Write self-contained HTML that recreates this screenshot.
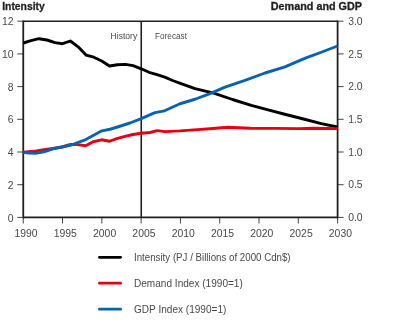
<!DOCTYPE html>
<html><head><meta charset="utf-8"><style>
html,body{margin:0;padding:0;background:#fff;}
svg{display:block;will-change:transform;}
text{font-family:"Liberation Sans",sans-serif;font-size:10.4px;fill:#484848;}
.lg{font-size:10px;}
.b{font-weight:bold;fill:#231f20;font-size:10.2px;stroke:#231f20;stroke-width:0.3px;}
.tk{stroke:#444;stroke-width:1;}
.ax{stroke:#231f20;stroke-width:1.8;fill:none;}
.ln{fill:none;stroke-width:2.9;stroke-linejoin:round;stroke-linecap:butt;}
</style></head><body>
<svg width="400" height="322" viewBox="0 0 400 322">
<text x="2.2" y="9.8" class="b" textLength="42.6" lengthAdjust="spacingAndGlyphs">Intensity</text>
<text x="270.8" y="9.8" class="b" textLength="91.2" lengthAdjust="spacingAndGlyphs">Demand and GDP</text>
<line x1="17.3" y1="217.40" x2="23.25" y2="217.40" class="tk"/><line x1="17.3" y1="184.70" x2="23.25" y2="184.70" class="tk"/><line x1="17.3" y1="152.00" x2="23.25" y2="152.00" class="tk"/><line x1="17.3" y1="119.30" x2="23.25" y2="119.30" class="tk"/><line x1="17.3" y1="86.60" x2="23.25" y2="86.60" class="tk"/><line x1="17.3" y1="53.90" x2="23.25" y2="53.90" class="tk"/><line x1="17.3" y1="21.20" x2="23.25" y2="21.20" class="tk"/><line x1="337.6" y1="217.40" x2="343.6" y2="217.40" class="tk"/><line x1="337.6" y1="184.70" x2="343.6" y2="184.70" class="tk"/><line x1="337.6" y1="152.00" x2="343.6" y2="152.00" class="tk"/><line x1="337.6" y1="119.30" x2="343.6" y2="119.30" class="tk"/><line x1="337.6" y1="86.60" x2="343.6" y2="86.60" class="tk"/><line x1="337.6" y1="53.90" x2="343.6" y2="53.90" class="tk"/><line x1="337.6" y1="21.20" x2="343.6" y2="21.20" class="tk"/><line x1="23.25" y1="217.4" x2="23.25" y2="223.5" class="tk"/><line x1="62.54" y1="217.4" x2="62.54" y2="223.5" class="tk"/><line x1="101.84" y1="217.4" x2="101.84" y2="223.5" class="tk"/><line x1="141.13" y1="217.4" x2="141.13" y2="223.5" class="tk"/><line x1="180.43" y1="217.4" x2="180.43" y2="223.5" class="tk"/><line x1="219.72" y1="217.4" x2="219.72" y2="223.5" class="tk"/><line x1="259.01" y1="217.4" x2="259.01" y2="223.5" class="tk"/><line x1="298.31" y1="217.4" x2="298.31" y2="223.5" class="tk"/><line x1="337.60" y1="217.4" x2="337.60" y2="223.5" class="tk"/>
<line x1="23.25" y1="21.2" x2="337.6" y2="21.2" class="ax" style="stroke-width:1.5"/>
<line x1="23.25" y1="217.4" x2="337.6" y2="217.4" class="ax"/>
<line x1="23.25" y1="20.5" x2="23.25" y2="218.3" class="ax"/>
<line x1="337.6" y1="20.5" x2="337.6" y2="218.3" class="ax"/>
<line x1="141.25" y1="21.2" x2="141.25" y2="217.4" class="ax" style="stroke-width:1.6"/>
<text x="110.6" y="38.8" style="font-size:8.6px" textLength="26.6" lengthAdjust="spacingAndGlyphs">History</text>
<text x="155" y="38.8" style="font-size:8.6px" textLength="32" lengthAdjust="spacingAndGlyphs">Forecast</text>
<text x="13.5" y="221.50" text-anchor="end">0</text><text x="13.5" y="188.80" text-anchor="end">2</text><text x="13.5" y="156.10" text-anchor="end">4</text><text x="13.5" y="123.40" text-anchor="end">6</text><text x="13.5" y="90.70" text-anchor="end">8</text><text x="13.5" y="58.00" text-anchor="end">10</text><text x="13.5" y="25.30" text-anchor="end">12</text><text x="348.2" y="221.10">0.0</text><text x="348.2" y="188.40">0.5</text><text x="348.2" y="155.70">1.0</text><text x="348.2" y="123.00">1.5</text><text x="348.2" y="90.30">2.0</text><text x="348.2" y="57.60">2.5</text><text x="348.2" y="24.90">3.0</text><text x="26.05" y="236.5" text-anchor="middle">1990</text><text x="65.34" y="236.5" text-anchor="middle">1995</text><text x="104.64" y="236.5" text-anchor="middle">2000</text><text x="143.93" y="236.5" text-anchor="middle">2005</text><text x="183.23" y="236.5" text-anchor="middle">2010</text><text x="222.52" y="236.5" text-anchor="middle">2015</text><text x="261.81" y="236.5" text-anchor="middle">2020</text><text x="301.11" y="236.5" text-anchor="middle">2025</text><text x="340.40" y="236.5" text-anchor="middle">2030</text>
<path d="M23.3,43 L31,40.7 L39,38.7 L47,40 L55,42.6 L62.5,43.7 L70.4,41 L78.1,46.8 L86,55.1 L93.8,57.2 L101.7,61 L109.5,66 L117.4,64.7 L125.3,64.4 L133.1,65.6 L141.2,68.8 L149,72.3 L157,74.6 L164.8,77.2 L172.6,80.5 L180.4,83.3 L195,88.6 L213.75,93.1 L232.5,99.5 L251.25,105.3 L270,110.4 L283.75,114 L302.5,118.75 L321.25,123.7 L337.5,127" class="ln" stroke="#000"/>
<path d="M23.3,152.2 L36.5,151 L44,149.8 L53,148.5 L62,147 L70.6,144.5 L77.5,144.6 L85.6,145.75 L93.1,141.75 L101.5,139.8 L109.6,141.25 L116.75,138.6 L125,136.4 L133,134.5 L141.25,133.25 L150,132.5 L157,130.6 L165,131.6 L180,130.9 L197.5,129.6 L210,128.8 L227.75,127.3 L250.5,128.3 L275,128.4 L298.75,128.6 L313.75,128.2 L337.5,128.6" class="ln" stroke="#e60012"/>
<path d="M23.3,152.2 L29,153 L36.5,153.2 L44,151.75 L53,148.75 L62,147 L71.25,145 L85,139.9 L93.1,135.5 L101.9,130.8 L110,129.25 L117.5,127 L130,123 L141.25,118.7 L155,112.7 L164.5,110.8 L180,103.75 L195,99.25 L210,93.6 L225,87.2 L245,80.3 L265,73 L285,66.8 L293,63.4 L306,57.8 L320.6,52.5 L337.5,46" class="ln" stroke="#0862b2"/>
<line x1="99.4" y1="257.3" x2="120.6" y2="257.3" stroke="#000" stroke-width="2.7" stroke-linecap="round"/>
<line x1="99.4" y1="283.2" x2="120.6" y2="283.2" stroke="#e60012" stroke-width="2.7" stroke-linecap="round"/>
<line x1="99.4" y1="309.2" x2="120.6" y2="309.2" stroke="#0862b2" stroke-width="2.7" stroke-linecap="round"/>
<text x="134" y="260.6" class="lg" textLength="156.6" lengthAdjust="spacingAndGlyphs">Intensity (PJ / Billions of 2000 Cdn$)</text>
<text x="134" y="287.1" class="lg" textLength="108.8" lengthAdjust="spacingAndGlyphs">Demand Index (1990=1)</text>
<text x="134" y="312.9" class="lg" textLength="92.4" lengthAdjust="spacingAndGlyphs">GDP Index (1990=1)</text>
</svg>
</body></html>
